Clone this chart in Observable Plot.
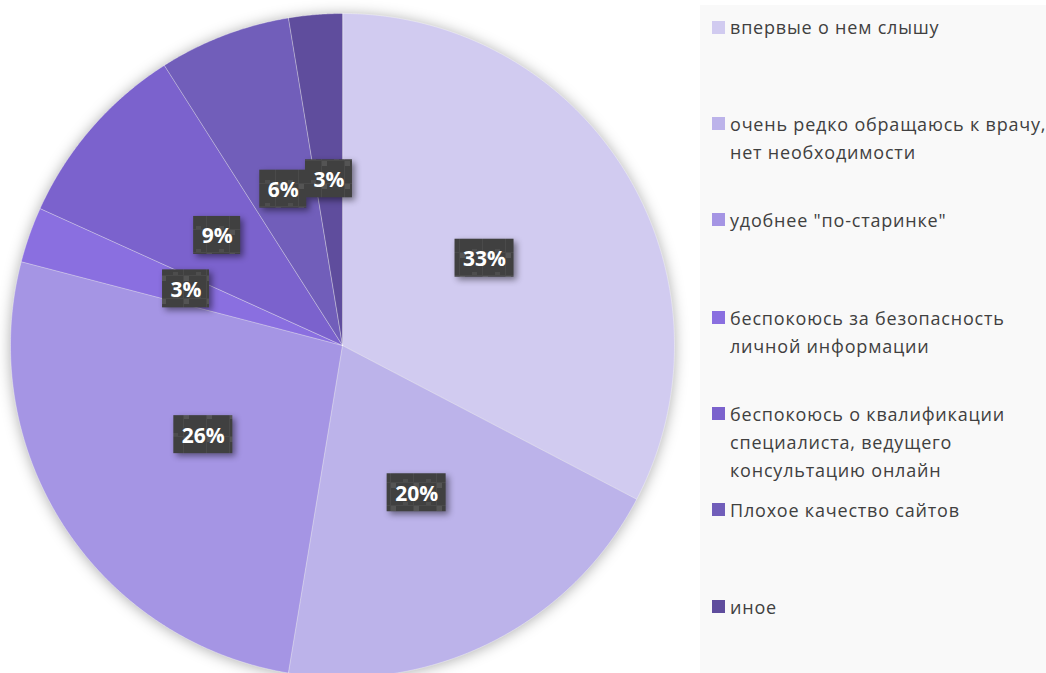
<!DOCTYPE html>
<html><head><meta charset="utf-8">
<script src="https://cdn.jsdelivr.net/npm/d3@7"></script>
<script src="https://cdn.jsdelivr.net/npm/@observablehq/plot@0.6"></script>
<style>
html,body{margin:0;padding:0;width:1046px;height:673px;overflow:hidden;background:#fff;font-family:"Open Sans",sans-serif}
#chart{position:absolute;left:0;top:0}
#legendbg{position:absolute;left:700px;top:5px;width:400px;height:700px;background:#f9f9f9}
.item{position:absolute;left:712px;white-space:nowrap;font-size:18px;line-height:28.3px;color:#404040;letter-spacing:0.8px}
.sw{position:absolute;left:0;width:13px;height:13px}
.tx{position:absolute;left:18px;top:0}
</style></head>
<body>
<div id="chart"></div>
<div id="legendbg"></div>
<div id="legend"></div>
<script>
const categories = [
  "впервые о нем слышу",
  "очень редко обращаюсь к врачу, нет необходимости",
  "удобнее \"по-старинке\"",
  "беспокоюсь за безопасность личной информации",
  "беспокоюсь о квалификации специалиста, ведущего консультацию онлайн",
  "Плохое качество сайтов",
  "иное"
];
const values = [32.6, 19.9, 26.4, 2.7, 9.2, 6.4, 2.6];
const colors = ["#d1cbf0", "#bcb3ea", "#a595e4", "#8a6fe0", "#7b62cd", "#715eba", "#5f4d9d"];
// legend text lines (as wrapped in the reference)
const legendLines = [
  ["впервые о нем слышу"],
  ["очень редко обращаюсь к врачу,", "нет необходимости"],
  ["удобнее \"по-старинке\""],
  ["беспокоюсь за безопасность", "личной информации"],
  ["беспокоюсь о квалификации", "специалиста, ведущего", "консультацию онлайн"],
  ["Плохое качество сайтов"],
  ["иное"]
];

const total = d3.sum(values);
const pie = d3.pie().sort(null).value(d => d)(values);
const polys = [];
const labels = [];
pie.forEach((p, i) => {
  const cat = categories[i];
  polys.push({cat, x: 0, y: 0});
  const n = Math.max(2, Math.ceil((p.endAngle - p.startAngle) / 0.005));
  for (let k = 0; k <= n; k++) {
    const a = p.startAngle + (p.endAngle - p.startAngle) * k / n;
    polys.push({cat, x: Math.sin(a), y: Math.cos(a)});
  }
  const m = (p.startAngle + p.endAngle) / 2;
  labels.push({cat, x: 0.5 * Math.sin(m), y: 0.5 * Math.cos(m), text: d3.format(".0%")(values[i] / total)});
});

const chart = Plot.plot({
  width: 700,
  height: 690,
  margin: 0,
  x: {domain: [-1, 1], range: [10, 674], axis: null},
  y: {domain: [-1, 1], range: [677, 13], axis: null},
  color: {domain: categories, range: colors},
  marks: [
    Plot.line(polys, {x: "x", y: "y", z: "cat", fill: "cat", stroke: "#ffffff", strokeOpacity: 0.45, strokeWidth: 0.8, curve: "linear-closed"}),
    Plot.text(labels, {x: "x", y: "y", text: "text", fill: "#ffffff", fontSize: 21, fontWeight: "bold", fontFamily: "Open Sans"})
  ]
});
document.getElementById("chart").appendChild(chart);

// shadow on pie
const pieG = chart.querySelector('g[aria-label="line"]');
pieG.style.filter = "drop-shadow(0px 1px 7px rgba(0,0,0,0.32))";

// pattern for label boxes
const ns = "http://www.w3.org/2000/svg";
const defs = document.createElementNS(ns, "defs");
defs.innerHTML = `<pattern id="tex" width="23" height="23" patternUnits="userSpaceOnUse">
  <rect width="23" height="23" fill="#404040"/>
  <rect x="0" y="0" width="5" height="5" fill="#545454"/>
  <rect x="12" y="19" width="5" height="4" fill="#4d4d4d"/>
  <rect x="22" y="0" width="1" height="23" fill="#4a4a4a"/>
  <rect x="0" y="22" width="23" height="1" fill="#4a4a4a"/>
</pattern>`;
chart.insertBefore(defs, chart.firstChild);

const textG = chart.querySelector('g[aria-label="text"]');
const boxG = document.createElementNS(ns, "g");
boxG.style.filter = "drop-shadow(3px 3px 3px rgba(0,0,0,0.45))";
textG.parentNode.insertBefore(boxG, textG);
textG.querySelectorAll("text").forEach(t => {
  const b = t.getBBox();
  const ctm = t.getCTM();
  const svgCtm = chart.getCTM() || {e: 0, f: 0};
  const g = document.createElementNS(ns, "g");
  const tr = t.getAttribute("transform");
  const r = document.createElementNS(ns, "rect");
  const w = b.width + 16, h = 38;
  const cx = b.x + b.width / 2, cy = b.y + b.height / 2;
  // place in absolute user coordinates using the text's own transform + bbox
  let ox = 0, oy = 0;
  if (tr) {
    const m = /translate\(([-\d.e]+)[ ,]+([-\d.e]+)\)/.exec(tr);
    if (m) { ox = +m[1]; oy = +m[2]; }
  }
  ox += +(t.getAttribute("x") || 0) * 0; // x/y already in bbox
  r.setAttribute("x", ox + cx - w / 2);
  r.setAttribute("y", oy + cy - h / 2);
  r.setAttribute("width", w);
  r.setAttribute("height", h);
  r.setAttribute("fill", "url(#tex)");
  boxG.appendChild(r);
});

// legend
const swCenters = [27.5, 124, 220, 318, 414, 510, 607];
const legend = document.getElementById("legend");
categories.forEach((c, i) => {
  const div = document.createElement("div");
  div.className = "item";
  div.style.top = (swCenters[i] - 14.15) + "px";
  const sw = document.createElement("div");
  sw.className = "sw";
  sw.style.background = colors[i];
  sw.style.top = "7.5px";
  const tx = document.createElement("div");
  tx.className = "tx";
  tx.innerHTML = legendLines[i].join("<br>");
  div.appendChild(sw);
  div.appendChild(tx);
  legend.appendChild(div);
});
</script>
</body></html>
